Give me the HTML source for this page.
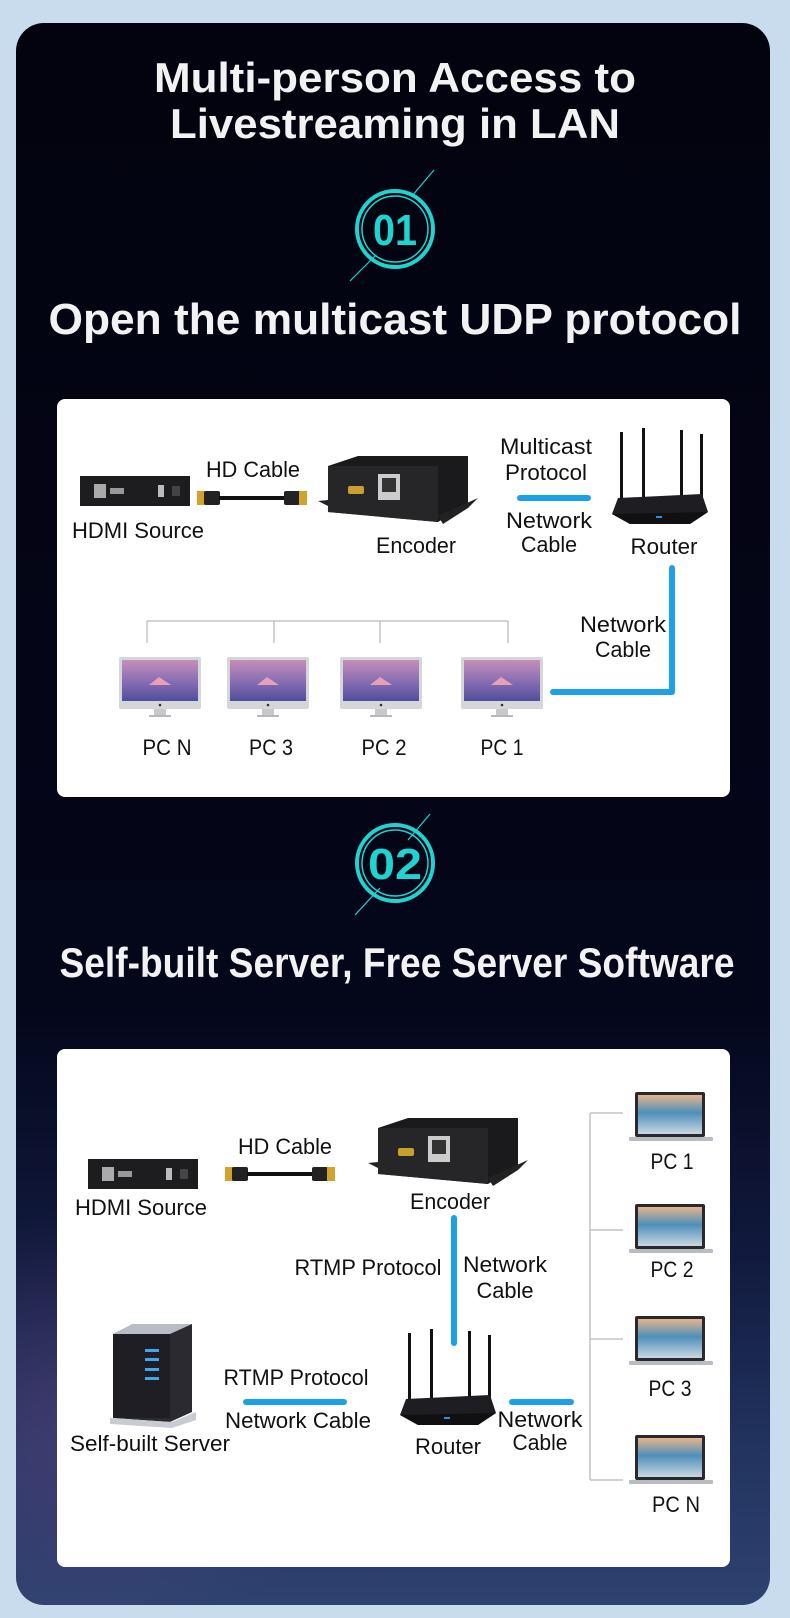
<!DOCTYPE html>
<html><head><meta charset="utf-8"><style>
html,body{margin:0;padding:0;background:#c9dced;}
svg{display:block}
text{font-family:"Liberation Sans",sans-serif;}
</style></head><body>
<svg width="790" height="1618" viewBox="0 0 790 1618" xmlns="http://www.w3.org/2000/svg">
<defs>
<linearGradient id="bg" x1="0" y1="0" x2="0" y2="1">
<stop offset="0" stop-color="#03030f"/><stop offset="0.62" stop-color="#04061a"/>
<stop offset="0.78" stop-color="#111a3e"/><stop offset="0.9" stop-color="#22335f"/><stop offset="1" stop-color="#2e4270"/>
</linearGradient>
<radialGradient id="glow" cx="0.1" cy="0.7" r="0.35"><stop offset="0" stop-color="#6a4a8a" stop-opacity="0.45"/><stop offset="1" stop-color="#6a4a8a" stop-opacity="0"/></radialGradient>
<linearGradient id="scr" x1="0" y1="0" x2="0" y2="1"><stop offset="0" stop-color="#c58fb8"/><stop offset="0.5" stop-color="#8a6fb3"/><stop offset="1" stop-color="#4f4f9a"/></linearGradient>
<linearGradient id="lap" x1="0" y1="0" x2="0" y2="1"><stop offset="0" stop-color="#e6b58e"/><stop offset="0.45" stop-color="#4f8fb8"/><stop offset="1" stop-color="#c8d8e2"/></linearGradient>
<g id="mon">
<rect x="0" y="0" width="82" height="52" rx="2" fill="#d4d6da"/>
<rect x="3" y="3" width="76" height="41" fill="url(#scr)"/>
<polygon points="30,28 40,20 52,28" fill="#e8a0b8"/>
<circle cx="41" cy="48" r="1.3" fill="#333"/>
<rect x="35" y="52" width="12" height="6" fill="#c8c8cc"/>
<rect x="30" y="58" width="22" height="2" fill="#b8b8bc"/>
</g>
<g id="laptop">
<rect x="6" y="0" width="70" height="45" rx="2" fill="#2a2a2e"/>
<rect x="9" y="3" width="64" height="39" fill="url(#lap)"/>
<rect x="0" y="45" width="84" height="4" rx="1" fill="#b8bcc2"/>
</g>
<g id="enc">
<polygon points="10,10 40,0 150,0 150,48 120,66 10,56" fill="#1a1a1c"/>
<polygon points="10,10 120,10 120,66 10,56" fill="#262628"/>
<rect x="60" y="18" width="22" height="26" fill="#ccc"/><rect x="64" y="22" width="14" height="14" fill="#333"/>
<rect x="30" y="30" width="16" height="8" rx="2" fill="#c8a030"/>
<polygon points="0,45 10,44 10,50" fill="#222"/><polygon points="120,60 160,42 150,52 125,68" fill="#222"/>
</g>
<g id="router">
<rect x="10" y="0" width="3" height="70" fill="#111"/><rect x="32" y="-4" width="3" height="72" fill="#111"/>
<rect x="70" y="-2" width="3" height="70" fill="#111"/><rect x="90" y="2" width="3" height="72" fill="#111"/>
<polygon points="8,66 92,62 98,80 80,92 20,92 2,82" fill="#1e1e22"/>
<polygon points="2,82 98,80 80,92 20,92" fill="#101012"/>
<rect x="46" y="84" width="6" height="2" fill="#2a8fe0"/>
</g>
<g id="hdmi">
<rect x="0" y="0" width="110" height="30" fill="#1d1d1f"/>
<rect x="14" y="8" width="12" height="14" fill="#aaa"/><rect x="30" y="12" width="14" height="6" fill="#999"/>
<rect x="78" y="9" width="6" height="12" fill="#bbb"/><rect x="92" y="10" width="8" height="10" fill="#444"/>
</g>
<g id="cable">
<rect x="0" y="-7" width="8" height="14" fill="#d2a32a"/><rect x="7" y="-7" width="16" height="14" rx="2" fill="#222"/>
<rect x="22" y="-2" width="66" height="4" fill="#111"/>
<rect x="87" y="-7" width="16" height="14" rx="2" fill="#222"/><rect x="102" y="-7" width="8" height="14" fill="#d2a32a"/>
</g>
</defs>

<rect x="0" y="0" width="790" height="1618" fill="#c9dced"/>
<rect x="16" y="23" width="754" height="1582" rx="28" fill="url(#bg)"/>
<rect x="16" y="1000" width="754" height="605" rx="28" fill="url(#glow)"/>

<g fill="#f2f2f2" font-weight="bold" font-size="42" text-anchor="middle">
<text x="395" y="92" textLength="482" lengthAdjust="spacingAndGlyphs">Multi-person Access to</text>
<text x="395" y="138" textLength="450" lengthAdjust="spacingAndGlyphs">Livestreaming in LAN</text>
<text x="395" y="334" font-size="44" textLength="693" lengthAdjust="spacingAndGlyphs">Open the multicast UDP protocol</text>
<text x="397" y="977" textLength="675" lengthAdjust="spacingAndGlyphs">Self-built Server, Free Server Software</text>
</g>

<g stroke="#1fd4d0" fill="none">
<circle cx="395" cy="229" r="38" stroke-width="4"/><circle cx="395" cy="229" r="33" stroke-width="1.5"/>
<line x1="434" y1="170" x2="412" y2="196" stroke-width="1.2"/><line x1="376" y1="255" x2="350" y2="281" stroke-width="1.2"/>
<circle cx="395" cy="863" r="38" stroke-width="4"/><circle cx="395" cy="863" r="33" stroke-width="1.5"/>
<line x1="430" y1="814" x2="408" y2="840" stroke-width="1.2"/><line x1="380" y1="888" x2="355" y2="915" stroke-width="1.2"/>
</g>
<text x="395" y="245" text-anchor="middle" fill="#1fd4d0" font-weight="bold" font-size="44" textLength="44" lengthAdjust="spacingAndGlyphs">01</text>
<text x="395" y="879" text-anchor="middle" fill="#1fd4d0" font-weight="bold" font-size="44" textLength="54" lengthAdjust="spacingAndGlyphs">02</text>

<rect x="57" y="399" width="673" height="398" rx="8" fill="#fff"/>
<use href="#hdmi" x="80" y="476"/>
<use href="#cable" x="197" y="498"/>
<use href="#enc" x="318" y="456"/>
<use href="#router" x="610" y="432"/>
<line x1="520" y1="498" x2="588" y2="498" stroke="#1ca1e6" stroke-width="6" stroke-linecap="round"/>
<polyline points="672,568 672,692 553,692" fill="none" stroke="#1ca1e6" stroke-width="6" stroke-linecap="round" stroke-linejoin="round"/>
<g stroke="#c4c4c4" stroke-width="1.5" fill="none">
<line x1="147" y1="621" x2="508" y2="621"/>
<line x1="147" y1="621" x2="147" y2="643"/><line x1="274" y1="621" x2="274" y2="643"/>
<line x1="380" y1="621" x2="380" y2="643"/><line x1="508" y1="621" x2="508" y2="643"/>
</g>
<use href="#mon" x="119" y="657"/><use href="#mon" x="227" y="657"/><use href="#mon" x="340" y="657"/><use href="#mon" x="461" y="657"/>

<g fill="#111" font-size="22" text-anchor="middle">
<text x="253" y="477" textLength="94" lengthAdjust="spacingAndGlyphs">HD Cable</text>
<text x="138" y="538" textLength="132" lengthAdjust="spacingAndGlyphs">HDMI Source</text>
<text x="416" y="553" textLength="80" lengthAdjust="spacingAndGlyphs">Encoder</text>
<text x="546" y="454" textLength="92" lengthAdjust="spacingAndGlyphs">Multicast</text>
<text x="546" y="480" textLength="82" lengthAdjust="spacingAndGlyphs">Protocol</text>
<text x="549" y="528" textLength="86" lengthAdjust="spacingAndGlyphs">Network</text>
<text x="549" y="552" textLength="56" lengthAdjust="spacingAndGlyphs">Cable</text>
<text x="664" y="554" textLength="67" lengthAdjust="spacingAndGlyphs">Router</text>
<text x="623" y="632" textLength="86" lengthAdjust="spacingAndGlyphs">Network</text>
<text x="623" y="657" textLength="56" lengthAdjust="spacingAndGlyphs">Cable</text>
<text x="167" y="755" textLength="49" lengthAdjust="spacingAndGlyphs">PC N</text>
<text x="271" y="755" textLength="44" lengthAdjust="spacingAndGlyphs">PC 3</text>
<text x="384" y="755" textLength="45" lengthAdjust="spacingAndGlyphs">PC 2</text>
<text x="502" y="755" textLength="43" lengthAdjust="spacingAndGlyphs">PC 1</text>
</g>

<rect x="57" y="1049" width="673" height="518" rx="8" fill="#fff"/>
<use href="#hdmi" x="88" y="1159"/>
<use href="#cable" x="225" y="1174"/>
<use href="#enc" x="368" y="1118"/>
<use href="#router" x="398" y="1333"/>
<line x1="454" y1="1218" x2="454" y2="1343" stroke="#1ca1e6" stroke-width="6" stroke-linecap="round"/>
<line x1="246" y1="1402" x2="344" y2="1402" stroke="#1ca1e6" stroke-width="6" stroke-linecap="round"/>
<line x1="512" y1="1402" x2="571" y2="1402" stroke="#1ca1e6" stroke-width="6" stroke-linecap="round"/>
<polygon points="113,1334 133,1324 192,1324 192,1412 170,1422 113,1418" fill="#2a2a30"/>
<polygon points="113,1334 133,1324 192,1324 170,1334" fill="#b8bcc4"/>
<rect x="113" y="1334" width="57" height="84" fill="#1e1e24"/>
<g fill="#3fa8f0"><rect x="145" y="1349" width="14" height="3"/><rect x="145" y="1358" width="14" height="3"/><rect x="145" y="1368" width="14" height="3"/><rect x="145" y="1377" width="14" height="3"/></g>
<polygon points="110,1418 172,1422 196,1412 196,1420 172,1428 110,1424" fill="#c8ccd2"/>
<g stroke="#c4c4c4" stroke-width="1.5" fill="none">
<line x1="590" y1="1113" x2="590" y2="1480"/>
<line x1="590" y1="1113" x2="623" y2="1113"/><line x1="590" y1="1230" x2="623" y2="1230"/>
<line x1="590" y1="1339" x2="623" y2="1339"/><line x1="590" y1="1480" x2="623" y2="1480"/>
</g>
<use href="#laptop" x="629" y="1092"/><use href="#laptop" x="629" y="1204"/><use href="#laptop" x="629" y="1316"/><use href="#laptop" x="629" y="1435"/>

<g fill="#111" font-size="22" text-anchor="middle">
<text x="285" y="1154" textLength="94" lengthAdjust="spacingAndGlyphs">HD Cable</text>
<text x="141" y="1215" textLength="132" lengthAdjust="spacingAndGlyphs">HDMI Source</text>
<text x="450" y="1209" textLength="80" lengthAdjust="spacingAndGlyphs">Encoder</text>
<text x="368" y="1275" textLength="147" lengthAdjust="spacingAndGlyphs">RTMP Protocol</text>
<text x="505" y="1272" textLength="84" lengthAdjust="spacingAndGlyphs">Network</text>
<text x="505" y="1298" textLength="57" lengthAdjust="spacingAndGlyphs">Cable</text>
<text x="296" y="1385" textLength="145" lengthAdjust="spacingAndGlyphs">RTMP Protocol</text>
<text x="298" y="1428" textLength="146" lengthAdjust="spacingAndGlyphs">Network Cable</text>
<text x="150" y="1451" textLength="160" lengthAdjust="spacingAndGlyphs">Self-built Server</text>
<text x="448" y="1454" textLength="66" lengthAdjust="spacingAndGlyphs">Router</text>
<text x="540" y="1427" textLength="85" lengthAdjust="spacingAndGlyphs">Network</text>
<text x="540" y="1450" textLength="55" lengthAdjust="spacingAndGlyphs">Cable</text>
<text x="672" y="1169" textLength="43" lengthAdjust="spacingAndGlyphs">PC 1</text>
<text x="672" y="1277" textLength="43" lengthAdjust="spacingAndGlyphs">PC 2</text>
<text x="670" y="1396" textLength="43" lengthAdjust="spacingAndGlyphs">PC 3</text>
<text x="676" y="1512" textLength="48" lengthAdjust="spacingAndGlyphs">PC N</text>
</g>
</svg>
</body></html>
